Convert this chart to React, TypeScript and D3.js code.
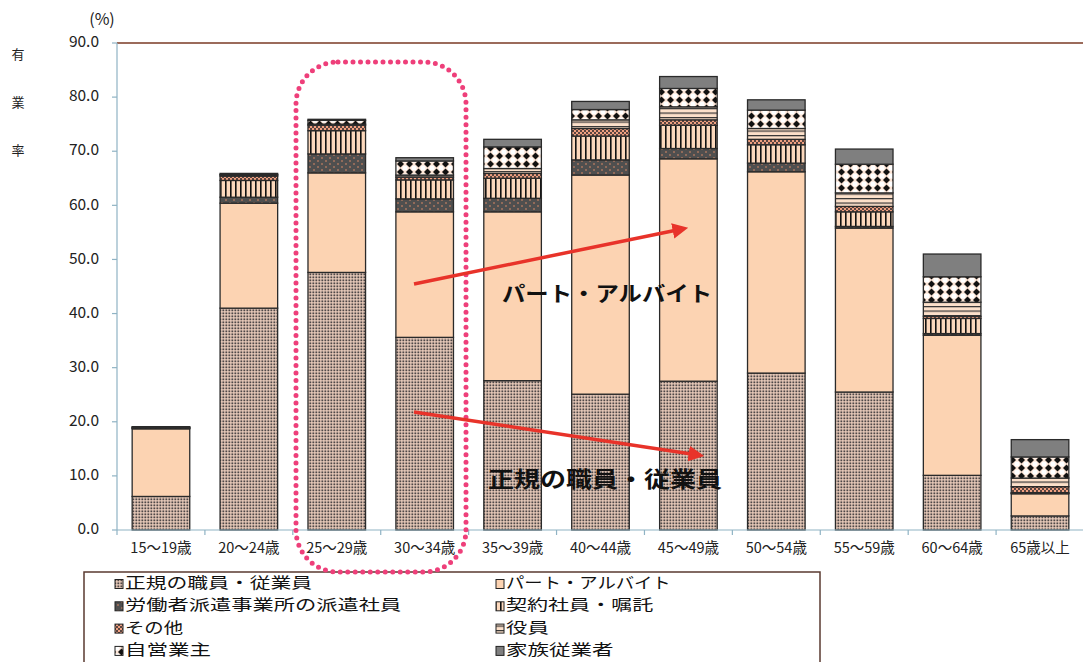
import React from "react";
import * as d3 from "d3";

const categories = ["15〜19歳", "20〜24歳", "25〜29歳", "30〜34歳", "35〜39歳", "40〜44歳", "45〜49歳", "50〜54歳", "55〜59歳", "60〜64歳", "65歳以上"];
const seiki = [6.2, 41.0, 47.6, 35.6, 27.6, 25.1, 27.5, 29.0, 25.5, 10.1, 2.6];
const part = [12.5, 19.4, 18.4, 23.2, 31.2, 40.5, 41.1, 37.2, 30.3, 25.9, 4.1];
const haken = [0.1, 1.1, 3.5, 2.4, 2.5, 2.8, 1.9, 1.6, 0.3, 0.3, 0.1];
const keiyaku = [0.1, 3.1, 4.3, 3.5, 3.7, 4.4, 4.3, 3.4, 2.7, 2.8, 0.1];
const sonota = [0.1, 0.8, 1.0, 0.5, 0.9, 1.4, 1.0, 1.0, 1.0, 0.4, 1.1];
const yakuin = [0.0, 0.2, 0.2, 0.4, 0.9, 1.6, 2.4, 2.0, 2.5, 2.6, 1.6];
const jiei = [0.0, 0.1, 0.7, 2.6, 4.0, 1.9, 3.4, 3.4, 5.3, 4.7, 3.9];
const kazoku = [0.1, 0.2, 0.2, 0.6, 1.4, 1.5, 2.2, 1.9, 2.8, 4.2, 3.2];
const yTicks = [0, 10, 20, 30, 40, 50, 60, 70, 80, 90];

const seriesNames = ["正規の職員・従業員", "パート・アルバイト", "労働者派遣事業所の派遣社員", "契約社員・嘱託", "その他", "役員", "自営業主", "家族従業者"];
const seriesData = [seiki, part, haken, keiyaku, sonota, yakuin, jiei, kazoku];
const fills = ["url(#pSeiki)", "#FCD3B2", "url(#pHaken)", "url(#pKeiyaku)", "url(#pSonota)", "url(#pYakuin)", "url(#pJiei)", "#7f7f7f"];

const W = 1083, H = 662;
const left = 117, right = 1084, top = 43, bottom = 530;
const font = "'Noto Sans CJK JP', 'Noto Sans', sans-serif";

function textWidth(s: string) {
  let w = 0;
  for (const ch of s) {
    if (/[\u30A0-\u30FF\u3040-\u309F]/.test(ch)) w += 18.3;
    else w += 21.5;
  }
  return w;
}

export default function App() {
  const x = d3.scaleBand<string>().domain(categories).range([left, right]).paddingInner(0.345).paddingOuter(0.1725);
  const y = d3.scaleLinear().domain([0, 90]).range([bottom, top]);
  const table = categories.map((c, i) => {
    const row: any = { cat: c };
    seriesNames.forEach((s, k) => (row[s] = seriesData[k][i]));
    return row;
  });
  const stacked = d3.stack<any>().keys(seriesNames)(table);
  const step = x.step();

  const legendRows = [
    [0, 1],
    [2, 3],
    [4, 5],
    [6, 7],
  ];

  const dotted = "#EE3F7A";

  return (
    <svg width={W} height={H} style={{ position: "absolute", left: 0, top: 0, background: "#fff" }} fontFamily={font}>
      <defs>
        <pattern id="pSeiki" width="3" height="3" patternUnits="userSpaceOnUse">
          <rect width="3" height="3" fill="#F4D4C2" />
          <rect x="0.4" y="0.4" width="1.9" height="1.9" fill="#4e4848" />
        </pattern>
        <pattern id="pHaken" width="8" height="6" patternUnits="userSpaceOnUse">
          <rect width="8" height="6" fill="#4f4f4f" />
          <circle cx="2" cy="2" r="0.8" fill="#E88E68" />
          <circle cx="6" cy="5" r="0.8" fill="#E88E68" />
        </pattern>
        <pattern id="pKeiyaku" width="5" height="5" patternUnits="userSpaceOnUse">
          <rect width="5" height="5" fill="#FCD8BC" />
          <rect x="0" y="0" width="1.6" height="5" fill="#111" />
        </pattern>
        <pattern id="pSonota" width="4" height="4" patternUnits="userSpaceOnUse">
          <rect width="4" height="4" fill="#5a4540" />
          <rect x="0" y="0" width="2" height="2" fill="#F0A080" />
          <rect x="2" y="2" width="2" height="2" fill="#F0A080" />
        </pattern>
        <pattern id="pYakuin" width="5" height="4.5" patternUnits="userSpaceOnUse">
          <rect width="5" height="4.5" fill="#FCE0CA" />
          <rect x="0" y="0" width="5" height="1.2" fill="#333" />
        </pattern>
        <pattern id="pJiei" width="9" height="8" patternUnits="userSpaceOnUse">
          <rect width="9" height="8" fill="#FBE3D4" />
          <circle cx="0" cy="0" r="2.6" fill="#fff" />
          <circle cx="9" cy="0" r="2.6" fill="#fff" />
          <circle cx="0" cy="8" r="2.6" fill="#fff" />
          <circle cx="9" cy="8" r="2.6" fill="#fff" />
          <polygon points="4.5,0.6 8,4 4.5,7.4 1,4" fill="#111" />
        </pattern>
      </defs>

      {/* y-axis side label */}
      {["有", "業", "率"].map((t, i) => (
        <text key={t} x={18} y={55 + i * 48} fontSize={13} textAnchor="middle" dominantBaseline="middle" fill="#222">
          {t}
        </text>
      ))}
      <text x={102} y={21} fontSize={16} textAnchor="middle" dominantBaseline="middle" fill="#222">
        (%)
      </text>

      {/* top border */}
      <line x1={left} x2={W} y1={top} y2={top} stroke="#7a3a24" strokeWidth={1.5} />

      {/* y axis */}
      <line x1={left} x2={left} y1={top} y2={bottom} stroke="#8fb3c4" strokeWidth={1.2} />
      {yTicks.map((t) => (
        <g key={t}>
          <line x1={left - 5} x2={left} y1={y(t)} y2={y(t)} stroke="#8fb3c4" strokeWidth={1.2} />
          <text x={99} y={y(t)} fontSize={15.5} textAnchor="end" dominantBaseline="middle" fill="#222">
            {t.toFixed(1)}
          </text>
        </g>
      ))}

      {/* bars */}
      {stacked.map((layer, k) => (
        <g key={layer.key}>
          {layer.map((d, i) => {
            const h = y(d[0]) - y(d[1]);
            if (h <= 0) return null;
            return (
              <rect
                key={i}
                x={x(categories[i])}
                y={y(d[1])}
                width={x.bandwidth()}
                height={h}
                fill={fills[k]}
                stroke="#2a2a2a"
                strokeWidth={1.3}
              />
            );
          })}
        </g>
      ))}

      {/* x axis */}
      <line x1={left} x2={W} y1={bottom} y2={bottom} stroke="#8fb3c4" strokeWidth={1.2} />
      {categories.map((c, i) => (
        <g key={c}>
          <line x1={left + step * i} x2={left + step * i} y1={bottom} y2={bottom + 5} stroke="#8fb3c4" strokeWidth={1.2} />
          <text x={(x(c) as number) + x.bandwidth() / 2} y={549} fontSize={14.5} textAnchor="middle" dominantBaseline="middle" fill="#222">
            {c}
          </text>
        </g>
      ))}

      {/* legend */}
      <rect x={84} y={572} width={736} height={100} fill="#fff" stroke="#5a3a30" strokeWidth={1.5} />
      {legendRows.map((row, r) =>
        row.map((k, c) => {
          const lx = c === 0 ? 115 : 496;
          const ly = 584 + r * 22.3;
          return (
            <g key={k}>
              <rect x={lx} y={ly - 4.5} width={8} height={9} fill={fills[k]} stroke="#222" strokeWidth={1} />
              <text
                x={lx + 10}
                y={ly}
                fontSize={15.3}
                dominantBaseline="middle"
                fill="#111"
                textLength={textWidth(seriesNames[k])}
                lengthAdjust="spacingAndGlyphs"
              >
                {seriesNames[k]}
              </text>
            </g>
          );
        })
      )}

      {/* annotations */}
      <rect x={296} y={62} width={170} height={510} rx={42} ry={42} fill="none" stroke={dotted} strokeWidth={5} strokeDasharray="0 7.5" strokeLinecap="round" />
      <defs>
        <marker id="arrowHead" viewBox="0 0 10 10" refX="6" refY="5" markerWidth="4.5" markerHeight="4.5" orient="auto">
          <path d="M0,0 L10,5 L0,10 z" fill="#E8332A" />
        </marker>
      </defs>
      <line x1={414} y1={284} x2={682} y2={229} stroke="#E8332A" strokeWidth={3.5} markerEnd="url(#arrowHead)" />
      <line x1={414} y1={412} x2={698} y2={455} stroke="#E8332A" strokeWidth={3.5} markerEnd="url(#arrowHead)" />
      <text x={502} y={295} fontSize={21} fontWeight="bold" dominantBaseline="middle" fill="#111" textLength={210} lengthAdjust="spacingAndGlyphs">
        パート・アルバイト
      </text>
      <text x={488} y={481} fontSize={22} fontWeight="bold" dominantBaseline="middle" fill="#111" textLength={234} lengthAdjust="spacingAndGlyphs">
        正規の職員・従業員
      </text>
    </svg>
  );
}
